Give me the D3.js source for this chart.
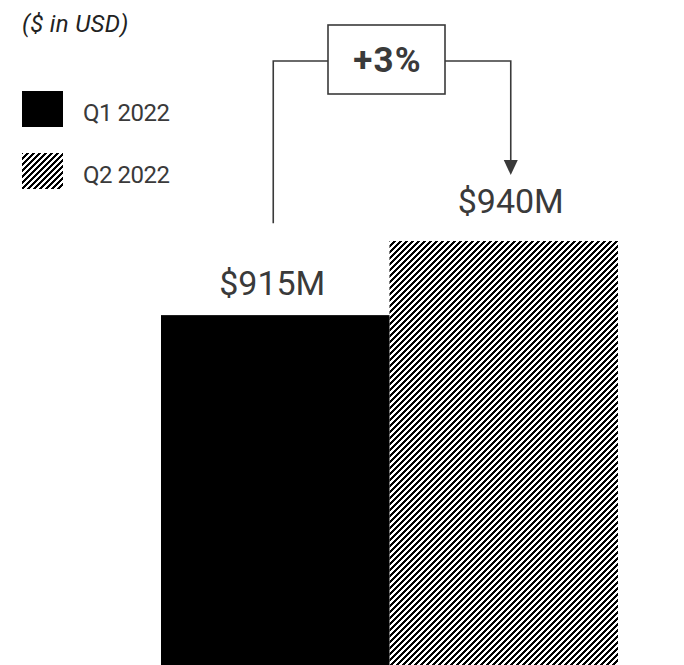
<!DOCTYPE html>
<html>
<head>
<meta charset="utf-8">
<script src="https://cdn.jsdelivr.net/npm/d3@7"></script>
<style>
  html, body { margin: 0; padding: 0; background: #fff; }
  svg { display: block; }
  text { font-family: Roboto, "Liberation Sans", sans-serif; }
</style>
</head>
<body>
<svg id="chart" width="684" height="665"></svg>
<script>
// Revenue by quarter
const quarters = ["Q1 2022", "Q2 2022"];
const revenue = [915, 940];          // $M
const valueLabels = ["$915M", "$940M"];
const changeLabel = "+3%";
const unitNote = "($ in USD)";

const W = 684, H = 665;
const svg = d3.select("#chart");

// Hatch pattern for the second quarter
const defs = svg.append("defs");
const P = 6;
const pat = defs.append("pattern")
  .attr("id", "hatch")
  .attr("patternUnits", "userSpaceOnUse")
  .attr("width", P).attr("height", P);
pat.append("path")
  .attr("d", `M-1,1 l2,-2 M0,${P} l${P},-${P} M${P - 1},${P + 1} l2,-2`)
  .attr("stroke", "#000")
  .attr("stroke-width", 1.55)
  .attr("shape-rendering", "crispEdges");

const fills = ["#000", "url(#hatch)"];

// Scales (value axis truncated, bars run off the bottom edge)
const x = d3.scaleBand().domain(quarters).range([161, 618]).padding(0);
const y = d3.scaleLinear().domain([797, 940]).range([H, 241]);

// Bars
svg.append("g").selectAll("rect")
  .data(quarters)
  .join("rect")
  .attr("x", d => x(d))
  .attr("y", (d, i) => y(revenue[i]))
  .attr("width", x.bandwidth())
  .attr("height", (d, i) => H - y(revenue[i]))
  .attr("fill", (d, i) => fills[i]);

// Value labels
const labelX = [x(quarters[0]) + x.bandwidth() / 2 - 3, x(quarters[1]) + x.bandwidth() / 2 + 7];
const labelGap = [20, 28];
svg.append("g").selectAll("text")
  .data(valueLabels)
  .join("text")
  .attr("x", (d, i) => labelX[i])
  .attr("y", (d, i) => y(revenue[i]) - labelGap[i])
  .attr("text-anchor", "middle")
  .attr("font-size", 34)
  .attr("fill", "#3a3a3a")
  .text(d => d);

// Change annotation: bracket line, box and arrow
const lineY = 61;
const boxX0 = 328, boxX1 = 445, boxY0 = 25, boxY1 = 94;
const leftX = labelX[0] + 1, rightX = labelX[1];
const ann = svg.append("g").attr("stroke", "#3a3a3a").attr("stroke-width", 1.6).attr("fill", "none");
ann.append("path")
  .attr("d", `M${leftX},${y(revenue[0]) - 92} V${lineY} H${boxX0}`);
ann.append("path")
  .attr("d", `M${boxX1},${lineY} H${rightX} V${y(revenue[1]) - 80}`);
ann.append("rect")
  .attr("x", boxX0).attr("y", boxY0)
  .attr("width", boxX1 - boxX0).attr("height", boxY1 - boxY0);
svg.append("path")
  .attr("d", `M${rightX - 7},${y(revenue[1]) - 81} L${rightX + 7},${y(revenue[1]) - 81} L${rightX},${y(revenue[1]) - 66} Z`)
  .attr("fill", "#3a3a3a");
svg.append("text")
  .attr("x", (boxX0 + boxX1) / 2 + 1)
  .attr("y", 72)
  .attr("text-anchor", "middle")
  .attr("font-size", 35)
  .attr("font-weight", 700)
  .attr("letter-spacing", 1.2)
  .attr("fill", "#3a3a3a")
  .text(changeLabel);

// Unit note
svg.append("text")
  .attr("x", 22).attr("y", 32)
  .attr("font-size", 24)
  .attr("font-style", "italic")
  .attr("fill", "#222")
  .attr("letter-spacing", 0.3)
  .text(unitNote);

// Legend
const legend = svg.append("g").selectAll("g")
  .data(quarters)
  .join("g")
  .attr("transform", (d, i) => `translate(22,${91 + i * 62})`);
legend.append("rect")
  .attr("width", 41).attr("height", 36)
  .attr("fill", (d, i) => fills[i]);
legend.append("text")
  .attr("x", 61).attr("y", 30)
  .attr("font-size", 24)
  .attr("fill", "#3a3a3a")
  .attr("letter-spacing", -0.5)
  .text(d => d);
</script>
</body>
</html>
